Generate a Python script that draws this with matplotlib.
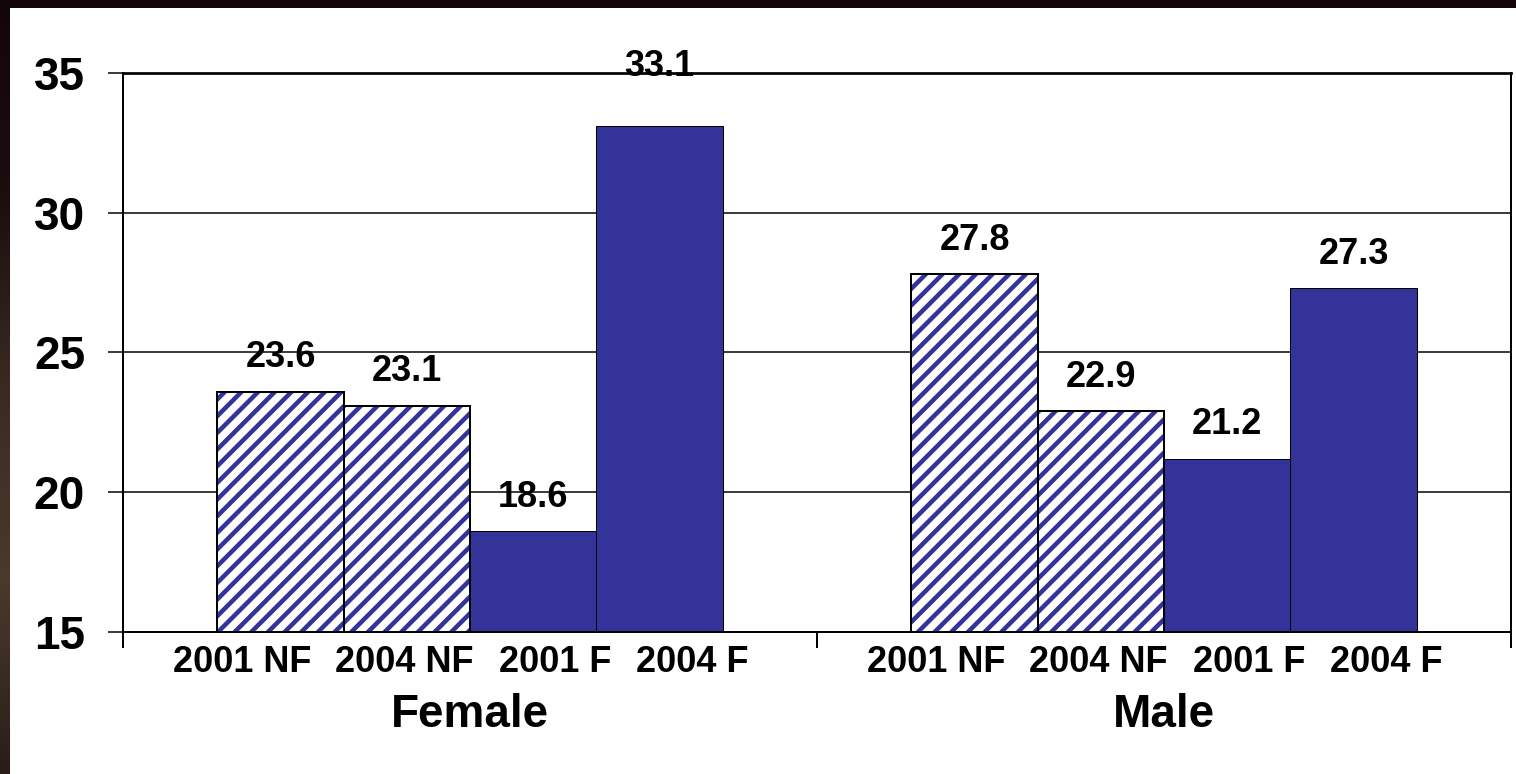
import numpy as np
import matplotlib.pyplot as plt
import matplotlib.patches as mpatches

# values per gender group, one bar per survey/category
groups = ['Female', 'Male']
bar_labels = ['2001 NF', '2004 NF', '2001 F', '2004 F']
female_vals = [23.6, 23.1, 18.6, 33.1]
male_vals = [27.8, 22.9, 21.2, 27.3]
hatched = [True, True, False, False]

BLUE = '#333399'
DPI = 200
PX = 72.0 / DPI  # one pixel in points

plt.rcParams['font.family'] = ['Liberation Sans', 'DejaVu Sans']
plt.rcParams['font.weight'] = 'bold'
plt.rcParams['hatch.linewidth'] = 4.5 * PX

SMALL = 13.0
BIG = 16.5

fig = plt.figure(figsize=(1516 / DPI, 774 / DPI), dpi=DPI)
fig.patch.set_facecolor('white')

# dark slide frame along the top and left edges
frame = fig.add_axes([0, 0, 1, 1], zorder=-5)
frame.set_axis_off()
frame.set_xlim(0, 1516)
frame.set_ylim(774, 0)
grad = np.linspace(0, 1, 256).reshape(-1, 1)
left_cmap = plt.matplotlib.colors.LinearSegmentedColormap.from_list(
    'edge', ['#12060a', '#1c0d0f', '#3a2a22', '#4a3a2c', '#2a1c18'])
frame.imshow(grad, extent=(0, 10, 774, 0), cmap=left_cmap, aspect='auto')
frame.add_patch(mpatches.Rectangle((0, 0), 1516, 8, color='#12060a', lw=0))

ax = fig.add_axes([123 / 1516, 1 - 632 / 774, 1388 / 1516, 559 / 774])
ax.set_facecolor('white')

width = 0.182
for g, vals in enumerate([female_vals, male_vals]):
    for i, (v, h) in enumerate(zip(vals, hatched)):
        x = g + (i - 1.5) * width
        if h:
            ax.bar(x, v - 15, width, bottom=15, color='white', edgecolor=BLUE,
                   hatch='////', linewidth=0, zorder=2)
            ax.bar(x, v - 15, width, bottom=15, fill=False, edgecolor='black',
                   linewidth=2 * PX, zorder=3)
        else:
            ax.bar(x, v - 15, width, bottom=15, color=BLUE, edgecolor='black',
                   linewidth=1 * PX, zorder=2)
        off = 34 if v < 33 else 60
        ax.annotate(f'{v:.1f}', (x, v), xytext=(0, off * PX), textcoords='offset points',
                    ha='center', va='center', fontsize=SMALL, fontweight='bold',
                    annotation_clip=False)

ax.set_ylim(15, 35)
ax.set_xlim(-0.5, 1.5)
ax.set_yticks([15, 20, 25, 30, 35])
ax.tick_params(axis='y', direction='out', length=15 * PX, width=1.5 * PX,
               labelsize=BIG, pad=23 * PX)
ax.yaxis.grid(True, color='black', linewidth=1.5 * PX, zorder=0)
ax.set_axisbelow(True)

ax.set_xticks([-0.5, 0.5, 1.5])
ax.set_xticklabels([])
ax.tick_params(axis='x', direction='out', length=16 * PX, width=2 * PX)

# category labels sit a little wider apart than the bars
label_shift = np.array([-228, -66, 85, 222]) / 694.0
for g in range(len(groups)):
    for lab, dx in zip(bar_labels, label_shift):
        ax.text(g + dx, -0.054, lab, transform=ax.get_xaxis_transform(),
                ha='center', va='center', fontsize=SMALL, fontweight='bold')
    ax.text(g, -0.148, groups[g], transform=ax.get_xaxis_transform(), ha='center', va='center',
            fontsize=BIG, fontweight='bold')

ax.spines['top'].set_linewidth(2.7 * PX)
ax.spines['left'].set_linewidth(2 * PX)
ax.spines['bottom'].set_linewidth(2 * PX)
ax.spines['right'].set_linewidth(2 * PX)

fig.savefig('out.png', dpi=DPI, facecolor='white')
